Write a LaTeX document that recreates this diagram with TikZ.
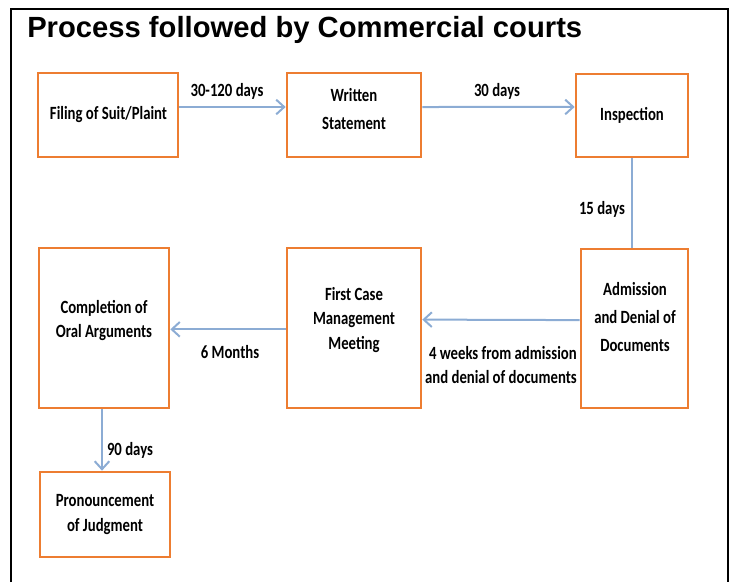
\documentclass[tikz,border=0pt]{standalone}
\usepackage{fontspec}
\usepackage{tikz}
\usetikzlibrary{arrows.meta,calc}
\newfontfamily\titlefont{Liberation Sans}
\newfontfamily\stagefont[FakeStretch=0.79]{Carlito}
\definecolor{stageorange}{RGB}{237,125,49}
\definecolor{linkblue}{RGB}{140,172,212}

\begin{document}
\begin{tikzpicture}[x=0.75pt,y=-0.75pt]
	\tikzstyle{stage} = [draw=stageorange, line width=2pt, inner sep=0pt]
	\tikzstyle{stagetext} = [font=\stagefont\bfseries\fontsize{14}{18.5}\selectfont, align=center, inner sep=0pt]
	\tikzstyle{gap} = [font=\stagefont\bfseries\fontsize{14}{18}\selectfont, inner sep=0pt]
	\tikzstyle{link} = [draw=linkblue, line width=1.5pt, -{Straight Barb[length=6pt,width=11pt]}]
	\useasboundingbox (0,0) rectangle (730,582);
	% frame and title
	\draw[line width=1.6pt] (11,582) -- (11,9) -- (728,9) -- (728,582);
	\node[anchor=base west, inner sep=0pt, font=\titlefont\bfseries\fontsize{21.9}{24}\selectfont] (title) at (27,37) {Process followed by Commercial courts};
	% stages
	\node[stage, minimum width=105pt, minimum height=63pt] (file) at (108,115) {};
	\node[stage, minimum width=100.5pt, minimum height=63pt] (written) at (354,115) {};
	\node[stage, minimum width=84pt, minimum height=62.25pt] (insp) at (632,115.5) {};
	\node[stage, minimum width=80.25pt, minimum height=119.25pt] (adm) at (634.5,328.5) {};
	\node[stage, minimum width=100.5pt, minimum height=120pt] (meet) at (354,328) {};
	\node[stage, minimum width=97.5pt, minimum height=120pt] (oral) at (104,328) {};
	\node[stage, minimum width=97.5pt, minimum height=63.75pt] (judg) at (105,514.5) {};
	\node[stagetext] (file-t) at (108.5,115) {Filing of Suit/Plaint};
	\node[stagetext, font=\stagefont\bfseries\fontsize{14}{21}\selectfont] (written-t) at (354,109) {Written\\Statement};
	\node[stagetext] (insp-t) at (632,115) {Inspection};
	\node[stagetext, font=\stagefont\bfseries\fontsize{14}{21}\selectfont] (adm-t) at (635,317.5) {Admission\\and Denial of\\Documents};
	\node[stagetext] (meet-t) at (354,320) {First Case\\Management\\Meeting};
	\node[stagetext] (oral-t) at (104,320.5) {Completion of\\Oral Arguments};
	\node[stagetext] (judg-t) at (105,514.5) {Pronouncement\\of Judgment};
	% connectors
	\draw[link] ([yshift=6pt]file.east) -- ([yshift=6pt]written.west);
	\draw[link] ([yshift=6pt]written.east) -- ([yshift=6.4pt]insp.west);
	\draw[link, -] (insp.south) -- (insp.south |- adm.north);
	\draw[link] ([yshift=6.3pt]adm.west) -- ([yshift=6.3pt]meet.east);
	\draw[link] ([yshift=-1pt]meet.west) -- ([yshift=-1pt]oral.east);
	\draw[link] ([xshift=-1.5pt]oral.south) -- ([xshift=-1.5pt]oral.south |- judg.north);
	% durations
	\node[gap] (d120) at (227,91) {30-120 days};
	\node[gap] (d30) at (497,91) {30 days};
	\node[gap] (d15) at (602,209) {15 days};
	\node[gap, align=right, anchor=east] (dweeks) at (577,365) {4 weeks from admission\\and denial of documents};
	\node[gap] (dmonths) at (230,352) {6 Months};
	\node[gap] (d90) at (130,450) {90 days};
\end{tikzpicture}
\end{document}
